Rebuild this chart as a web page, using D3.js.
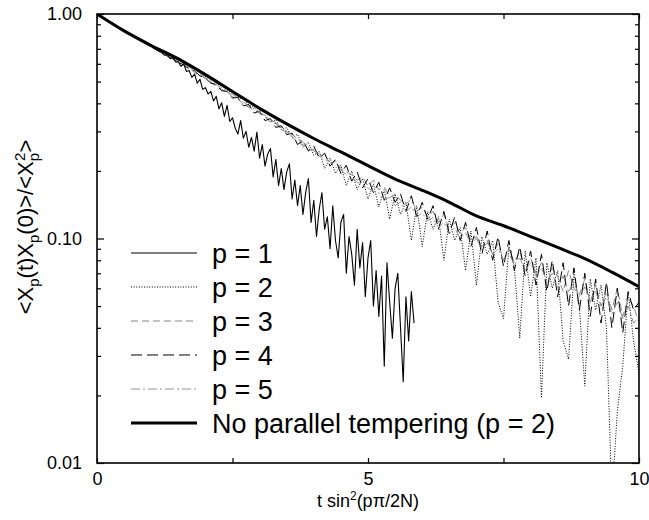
<!DOCTYPE html>
<html><head><meta charset="utf-8">
<script src="https://cdn.jsdelivr.net/npm/d3@7"></script>
<style>body{margin:0;background:#fff}svg{display:block;font-family:Arial,"Liberation Sans",Helvetica,sans-serif}</style>
</head><body><svg id="c" width="649" height="520"></svg>
<script>
// ---- data ----
const xTicks = [0, 2.5, 5, 7.5, 10];
const xTickLabels = ["0", "", "5", "", "10"];
const yMajorTicks = [0.01, 0.1, 1];
const yMajorLabels = ["0.01", "0.10", "1.00"];
const seriesNames = ["p = 1", "p = 2", "p = 3", "p = 4", "p = 5", "No parallel tempering (p = 2)"];

const tStepP1 = 0.05;   // sample spacing of p = 1
const tStep = 0.1;      // sample spacing of p = 2..5
const tStepNoPT = 0.5;  // sample spacing of the no-tempering curve

const p1 = [
1.000,0.985,0.968,0.950,0.935, 0.918,0.905,0.885,0.872,0.855,
0.842,0.828,0.812,0.800,0.788, 0.775,0.768,0.750,0.742,0.725,
0.718,0.702,0.695,0.680,0.672, 0.655,0.660,0.632,0.640,0.612,
0.612,0.585,0.600,0.555,0.560, 0.522,0.540,0.492,0.512,0.462,
0.470,0.440,0.452,0.410,0.430, 0.378,0.402,0.350,0.392,0.332,
0.345,0.310,0.292,0.335,0.280, 0.300,0.255,0.282,0.245,0.298,
0.228,0.262,0.210,0.238,0.252, 0.188,0.225,0.172,0.205,0.165,
0.198,0.215,0.150,0.182,0.140, 0.172,0.128,0.160,0.185,0.118,
0.148,0.102,0.135,0.160,0.110, 0.125,0.090,0.140,0.098,0.082,
0.118,0.128,0.070,0.102,0.085, 0.062,0.110,0.074,0.096,0.055,
0.082,0.098,0.050,0.072,0.045, 0.068,0.027,0.078,0.052,0.036,
0.060,0.070,0.040,0.023,0.055, 0.035,0.058,0.042
];
const p2 = [
1.000,0.968,0.938,0.905,0.878,0.852,0.822,0.798,0.772,0.748,
0.722,0.705,0.680,0.662,0.640,0.622,0.602,0.585,0.568,0.548,
0.525,0.512,0.490,0.478,0.458,0.445,0.425,0.418,0.392,0.385,
0.360,0.355,0.330,0.338,0.305,0.312,0.280,0.292,0.255,0.268,
0.235,0.245,0.205,0.228,0.195,0.212,0.172,0.200,0.165,0.185,
0.150,0.175,0.138,0.165,0.122,0.158,0.128,0.145,0.098,0.140,
0.092,0.132,0.110,0.125,0.080,0.122,0.098,0.112,0.072,0.108,
0.062,0.102,0.085,0.098,0.052,0.044,0.092,0.075,0.036,0.088,
0.055,0.082,0.0195,0.078,0.060,0.072,0.035,0.029,0.070,0.050,
0.022,0.066,0.048,0.062,0.040,0.007,0.017,0.027,0.058,0.035,
0.025
];
const p3 = [
1.000,0.965,0.933,0.900,0.868,0.842,0.810,0.788,0.762,0.735,
0.712,0.695,0.672,0.650,0.628,0.612,0.590,0.575,0.548,0.535,
0.515,0.498,0.478,0.462,0.448,0.428,0.418,0.395,0.385,0.372,
0.362,0.348,0.330,0.325,0.305,0.298,0.285,0.268,0.262,0.248,
0.250,0.232,0.238,0.215,0.222,0.205,0.198,0.192,0.182,0.188,
0.172,0.182,0.165,0.170,0.152,0.158,0.148,0.142,0.150,0.132,
0.138,0.125,0.132,0.118,0.128,0.110,0.118,0.105,0.112,0.098,
0.102,0.092,0.098,0.085,0.095,0.080,0.090,0.078,0.088,0.072,
0.082,0.070,0.078,0.062,0.074,0.068,0.058,0.072,0.060,0.056,
0.066,0.052,0.062,0.050,0.058,0.048,0.060,0.045,0.054,0.050,
0.042
];
const p4 = [
1.000,0.962,0.930,0.898,0.870,0.838,0.812,0.785,0.760,0.738,
0.715,0.690,0.675,0.648,0.632,0.608,0.595,0.568,0.558,0.530,
0.518,0.492,0.485,0.455,0.452,0.422,0.425,0.390,0.395,0.362,
0.370,0.335,0.342,0.312,0.318,0.290,0.295,0.262,0.275,0.245,
0.258,0.228,0.240,0.210,0.225,0.195,0.212,0.180,0.198,0.168,
0.185,0.160,0.178,0.148,0.168,0.145,0.158,0.132,0.155,0.125,
0.145,0.122,0.140,0.110,0.132,0.105,0.125,0.098,0.118,0.092,
0.112,0.085,0.108,0.080,0.102,0.075,0.098,0.072,0.092,0.068,
0.088,0.062,0.085,0.058,0.080,0.055,0.078,0.050,0.074,0.048,
0.070,0.045,0.066,0.042,0.064,0.040,0.060,0.038,0.058,0.048,
0.052
];
const p5 = [
1.000,0.966,0.935,0.902,0.872,0.845,0.815,0.790,0.765,0.740,
0.718,0.698,0.675,0.655,0.635,0.615,0.595,0.578,0.558,0.540,
0.520,0.505,0.485,0.470,0.452,0.438,0.420,0.405,0.390,0.378,
0.365,0.352,0.338,0.328,0.312,0.300,0.290,0.278,0.268,0.255,
0.245,0.238,0.225,0.220,0.208,0.202,0.192,0.188,0.178,0.175,
0.168,0.162,0.160,0.150,0.152,0.140,0.145,0.132,0.138,0.125,
0.130,0.120,0.124,0.112,0.118,0.105,0.112,0.100,0.106,0.095,
0.100,0.090,0.096,0.085,0.090,0.080,0.086,0.076,0.082,0.072,
0.078,0.068,0.074,0.064,0.070,0.060,0.068,0.058,0.064,0.055,
0.061,0.052,0.058,0.050,0.055,0.046,0.052,0.044,0.050,0.042,
0.045
];
const noPT = [1.000,0.841,0.724,0.631,0.537,0.452,0.380,0.324,0.279,0.243,0.211,
              0.184,0.164,0.145,0.126,0.114,0.102,0.0912,0.0813,0.0708,0.0610];

// ---- chart ----
const L = 97, R = 639, T = 14, B = 463;
const svg = d3.select("#c");
const x = d3.scaleLinear().domain([0, 10]).range([L, R]);
const y = d3.scaleLog().domain([0.01, 1]).range([B, T]);

svg.append("defs").append("clipPath").attr("id", "clip")
  .append("rect").attr("x", L).attr("y", T).attr("width", R - L).attr("height", B - T);

const toPts = (arr, step) => arr.map((v, i) => [i * step, v]);
const styles = [
  {data: toPts(p1, tStepP1), stroke: "#000", w: 1.1, dash: null},
  {data: toPts(p2, tStep), stroke: "#000", w: 1, dash: "1,1.6"},
  {data: toPts(p3, tStep), stroke: "#888", w: 1, dash: "7,4"},
  {data: toPts(p4, tStep), stroke: "#000", w: 1, dash: "11,5"},
  {data: toPts(p5, tStep), stroke: "#888", w: 0.9, dash: "9,3,2,3"},
  {data: toPts(noPT, tStepNoPT), stroke: "#000", w: 3, dash: null, smooth: true}
];

const g = svg.append("g").attr("clip-path", "url(#clip)");
const order = [1, 2, 3, 4, 0, 5];
order.forEach(i => {
  const s = styles[i];
  const line = d3.line().x(d => x(d[0])).y(d => y(d[1]));
  if (s.smooth) line.curve(d3.curveMonotoneX);
  g.append("path").attr("d", line(s.data)).attr("fill", "none")
    .attr("stroke", s.stroke).attr("stroke-width", s.w)
    .attr("stroke-dasharray", s.dash).attr("stroke-linejoin", "round");
});

// axes
const yMinor = [];
[0.01, 0.1].forEach(d => { for (let k = 2; k <= 9; k++) yMinor.push(d * k); });

svg.append("g").attr("transform", `translate(${L},0)`)
  .call(d3.axisLeft(y).tickValues(yMajorTicks).tickSizeInner(-7).tickSizeOuter(0).tickPadding(15)
    .tickFormat((d, i) => yMajorLabels[i]));
svg.append("g").attr("transform", `translate(${L},0)`)
  .call(d3.axisLeft(y).tickValues(yMinor).tickSizeInner(-4).tickSizeOuter(0).tickFormat(""));
svg.append("g").attr("transform", `translate(${R},0)`)
  .call(d3.axisRight(y).tickValues(yMajorTicks).tickSizeInner(-7).tickSizeOuter(0).tickFormat(""));
svg.append("g").attr("transform", `translate(${R},0)`)
  .call(d3.axisRight(y).tickValues(yMinor).tickSizeInner(-4).tickSizeOuter(0).tickFormat(""));
svg.append("g").attr("transform", `translate(0,${B})`)
  .call(d3.axisBottom(x).tickValues(xTicks).tickSizeInner(-5).tickSizeOuter(0).tickPadding(9)
    .tickFormat((d, i) => xTickLabels[i]));
svg.append("g").attr("transform", `translate(0,${T})`)
  .call(d3.axisTop(x).tickValues(xTicks).tickSizeInner(-5).tickSizeOuter(0).tickFormat(""));

svg.selectAll(".domain").remove();
svg.selectAll(".tick line").attr("stroke", "#000").attr("stroke-width", 1.2);
svg.selectAll(".tick text").attr("font-size", "18px").attr("font-family", "Arial, 'Liberation Sans', sans-serif").attr("fill", "#000");

svg.append("rect").attr("x", L).attr("y", T).attr("width", R - L).attr("height", B - T)
  .attr("fill", "none").attr("stroke", "#000").attr("stroke-width", 1.6);

// axis titles
const xt = svg.append("text").attr("x", (L + R) / 2).attr("y", 507)
  .attr("text-anchor", "middle").attr("font-size", 18).attr("fill", "#000");
xt.append("tspan").text("t sin");
xt.append("tspan").attr("font-size", 12).attr("dy", -7).text("2");
xt.append("tspan").attr("dy", 7).text("(p\u03c0/2N)");

const yt = svg.append("text").attr("transform", "translate(33,227) rotate(-90)")
  .attr("text-anchor", "middle").attr("font-size", 22).attr("fill", "#000");
yt.append("tspan").text("<X");
yt.append("tspan").attr("font-size", 15).attr("dy", 6).text("p");
yt.append("tspan").attr("dy", -6).text("(t)X");
yt.append("tspan").attr("font-size", 15).attr("dy", 6).text("p");
yt.append("tspan").attr("dy", -6).text("(0)>/<X");
yt.append("tspan").attr("font-size", 15).attr("dy", 6).text("p");
yt.append("tspan").attr("font-size", 15).attr("dx", -8).attr("dy", -14).text("2");
yt.append("tspan").attr("dy", 8).text(">");

// legend
const leg = svg.append("g");
styles.forEach((s, i) => {
  const yy = 253 + i * 34;
  leg.append("line").attr("x1", 131).attr("x2", 197).attr("y1", yy).attr("y2", yy)
    .attr("stroke", s.stroke).attr("stroke-width", s.w).attr("stroke-dasharray", s.dash);
  leg.append("text").attr("x", 212).attr("y", yy).attr("dy", "0.36em")
    .attr("font-size", 27).attr("fill", "#000").text(seriesNames[i]);
});
</script></body></html>
